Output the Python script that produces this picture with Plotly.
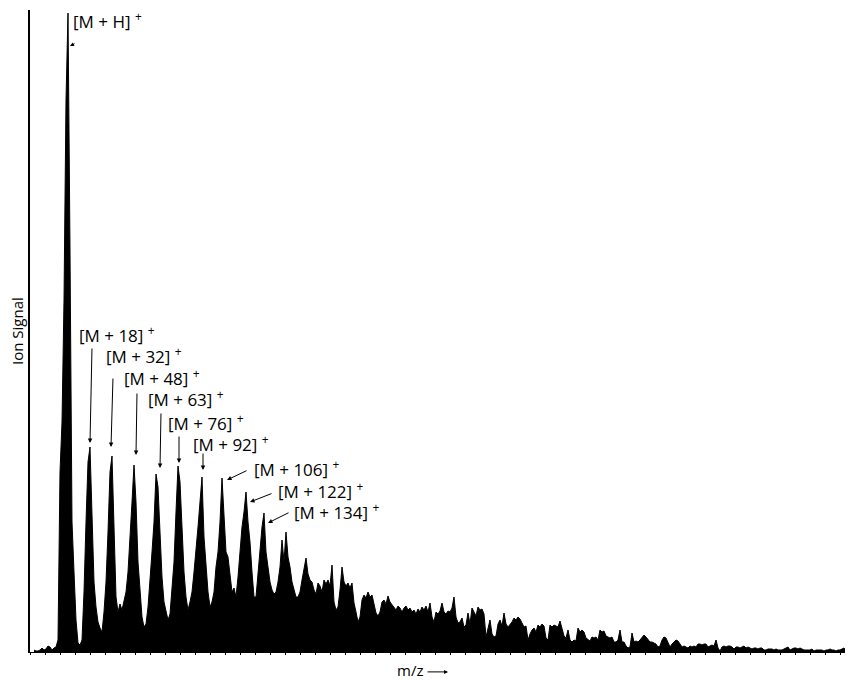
import numpy as np
import plotly.graph_objects as go

signal = [
    2, 1, 1, 2, 4, 2, 3, 6, 5, 2,
    4, 5, 12, 180, 230, 352, 552, 639, 402, 130,
    80, 32, 9, 7, 12, 60, 130, 190, 205, 135,
    70, 45, 30, 24, 20, 40, 70, 120, 180, 196,
    110, 55, 40, 48, 42, 50, 60, 80, 110, 150,
    187, 150, 90, 60, 35, 25, 28, 45, 70, 100,
    130, 178, 165, 110, 75, 50, 40, 32, 38, 60,
    90, 140, 186, 170, 120, 80, 55, 42, 50, 60,
    80, 100, 125, 150, 175, 115, 90, 60, 45, 50,
    60, 85, 100, 130, 174, 140, 100, 95, 80, 60,
    64, 55, 75, 100, 125, 140, 160, 130, 110, 80,
    55, 55, 80, 105, 125, 139, 100, 85, 70, 62,
    58, 60, 70, 85, 112, 90, 120, 95, 85, 70,
    62, 55, 55, 60, 72, 85, 94, 78, 72, 70,
    62, 58, 69, 66, 60, 72, 68, 72, 66, 87,
    50, 42, 45, 62, 85, 70, 66, 69, 64, 69,
    49, 40, 30, 35, 52, 57, 54, 60, 55, 57,
    48, 39, 36, 40, 50, 52, 48, 56, 50, 47,
    45, 42, 46, 44, 40, 44, 46, 42, 44, 40,
    42, 38, 43, 40, 45, 42, 46, 40, 49, 35,
    30, 40, 38, 41, 49, 40, 38, 41, 40, 44,
    55, 35, 29, 30, 34, 25, 27, 39, 28, 44,
    40, 36, 45, 42, 43, 38, 15, 25, 32, 18,
    15, 16, 28, 32, 26, 39, 28, 25, 27, 30,
    34, 32, 35, 33, 29, 25, 26, 12, 18, 22,
    24, 20, 27, 25, 28, 26, 14, 12, 27, 25,
    27, 26, 25, 31, 22, 16, 14, 22, 12, 10,
    12, 11, 24, 20, 22, 20, 14, 12, 11, 15,
    14, 15, 12, 22, 20, 21, 16, 15, 14, 15,
    10, 10, 12, 22, 10, 10, 6, 4, 5, 19,
    10, 11, 10, 12, 14, 17, 15, 12, 10, 10,
    9, 8, 5, 6, 12, 15, 14, 10, 5, 8,
    10, 12, 11, 8, 5, 6, 5, 4, 6, 5,
    6, 5, 8, 8, 7, 8, 8, 5, 6, 7,
    6, 12, 4, 1, 5, 6, 5, 6, 6, 5,
    3, 5, 5, 4, 5, 6, 4, 5, 4, 3,
    4, 4, 3, 4, 4, 2, 2, 3, 3, 3,
    2, 3, 2, 2, 2, 3, 4, 5, 2, 3,
    4, 4, 3, 4, 3, 2, 2, 2, 2, 3,
    1, 2, 2, 2, 2, 1, 2, 2, 3, 2,
    2, 1, 2, 2, 3, 4, 1, 1, 1,
]
mz_start = 4
mz_step = 2
mz = mz_start + mz_step * np.arange(len(signal))

# Peak labels: text, label anchor (x, y), arrow tail (x, y), arrow head (x, y)
labels = ["[M + 18]", "[M + 32]", "[M + 48]", "[M + 63]", "[M + 76]",
          "[M + 92]", "[M + 106]", "[M + 122]", "[M + 134]"]
label_x = [47, 74, 92, 116, 136, 161, 222, 246, 262]
label_y = [318, 297, 275, 254, 230, 209, 184, 162, 141]
tail_x = [62, 83, 107, 131, 149, 173, 218, 243, 260]
tail_y = [305, 275, 260, 240, 217, 200, 182, 159, 140]
head_x = [60, 81, 106, 130, 149, 173, 197, 220, 238]
head_y = [209, 205, 197, 184, 189, 182, 172, 150, 129]

fig = go.Figure()
fig.add_trace(go.Scatter(
    x=mz, y=signal, mode="lines",
    line=dict(color="black", width=1),
    fill="tozeroy", fillcolor="black",
    hoverinfo="skip", showlegend=False,
))

FONT = "Open Sans"
LSIZE = 17
ann = []
# [M + H]+
ann.append(dict(x=41, y=632, xref="x", yref="y", text="[M + H] <sup>+</sup>",
                showarrow=False, xanchor="left", yanchor="middle",
                font=dict(family=FONT, size=LSIZE, color="black")))
ann.append(dict(x=40, y=606, ax=46, ay=609, xref="x", yref="y", axref="x", ayref="y",
                text="", showarrow=True, arrowhead=2, arrowsize=0.8, arrowwidth=1,
                arrowcolor="black"))
for t, lx, ly, tx, ty, hx, hy in zip(labels, label_x, label_y, tail_x, tail_y, head_x, head_y):
    ann.append(dict(x=lx, y=ly, xref="x", yref="y", text=t + " <sup>+</sup>",
                    showarrow=False, xanchor="left", yanchor="middle",
                    font=dict(family=FONT, size=LSIZE, color="black")))
    ann.append(dict(x=hx, y=hy, ax=tx, ay=ty, xref="x", yref="y", axref="x", ayref="y",
                    text="", showarrow=True, arrowhead=2, arrowsize=0.9, arrowwidth=1,
                    arrowcolor="black", standoff=0))

# axis titles (paper-referenced so they are drawn outside the plot area)
ann.append(dict(x=-0.0159, y=0.5, xref="paper", yref="paper", text="Ion Signal",
                textangle=-90, showarrow=False, xanchor="center", yanchor="middle",
                borderpad=0, font=dict(family=FONT, size=15, color="black")))
ann.append(dict(x=0.4634, y=-0.028, xref="paper", yref="paper", text="m/z",
                showarrow=False, xanchor="center", yanchor="middle",
                borderpad=0, font=dict(family=FONT, size=15, color="black")))
ann.append(dict(x=0.5098, y=-0.031, ax=-22, ay=0, xref="paper", yref="paper",
                text="", showarrow=True, arrowhead=2, arrowsize=0.8, arrowwidth=1,
                arrowcolor="black", standoff=0))

# the page body has an 8px margin, so the figure is sized/offset to compensate
fig.update_layout(
    width=845, height=672,
    margin=dict(l=22, r=3, t=2, b=28),
    paper_bgcolor="white", plot_bgcolor="white",
    annotations=ann,
    xaxis=dict(range=[0, 820], showgrid=False, zeroline=False, showline=True,
               linecolor="black", linewidth=1, ticks="outside", ticklen=2,
               tickcolor="black", dtick=15, tick0=0, showticklabels=False),
    yaxis=dict(range=[0, 642], showgrid=False, zeroline=False, showline=True,
               linecolor="black", linewidth=1.5, ticks="", showticklabels=False),
)

fig.write_html("out.html")
